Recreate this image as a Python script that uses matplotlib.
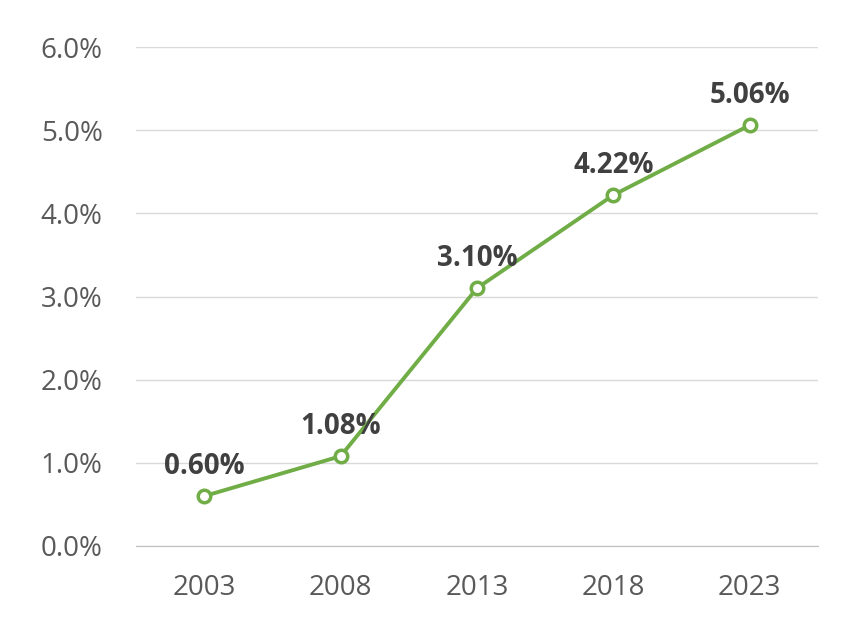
import matplotlib
matplotlib.use("Agg")
import matplotlib.pyplot as plt
from matplotlib.ticker import FuncFormatter

years = ["2003", "2008", "2013", "2018", "2023"]
values = [0.60, 1.08, 3.10, 4.22, 5.06]
labels = ["0.60%", "1.08%", "3.10%", "4.22%", "5.06%"]

plt.rcParams['font.family'] = ['Open Sans', 'DejaVu Sans']

fig = plt.figure(figsize=(8.66, 6.29), dpi=100)
ax = fig.add_axes([136/866, 1-546/629, 682/866, (546-47)/629])

x = list(range(len(years)))
ax.plot(x, values, color='#70AD47', lw=2.8, marker='o', ms=9,
        markerfacecolor='white', markeredgecolor='#70AD47', markeredgewidth=2.5, zorder=3)
for xi, v, lab in zip(x, values, labels):
    ax.annotate(lab, (xi, v), xytext=(0, 11), textcoords='offset points',
                ha='center', va='bottom', fontsize=20, fontweight='bold', color='#404040')

ax.set_xlim(-0.5, len(years) - 0.5)
ax.set_ylim(0, 6)
ax.set_yticks([0, 1, 2, 3, 4, 5, 6])
ax.yaxis.set_major_formatter(FuncFormatter(lambda v, p: f"{v:.1f}%"))
ax.set_xticks(x)
ax.set_xticklabels(years)
ax.grid(axis='y', color='#D9D9D9', lw=1)
ax.set_axisbelow(True)
for s in ['top', 'right', 'left']:
    ax.spines[s].set_visible(False)
ax.spines['bottom'].set_color('#BFBFBF')
ax.tick_params(axis='both', length=0, labelsize=20, colors='#595959')
ax.tick_params(axis='y', pad=24)
ax.tick_params(axis='x', pad=20)

fig.savefig("out.png", dpi=100)
